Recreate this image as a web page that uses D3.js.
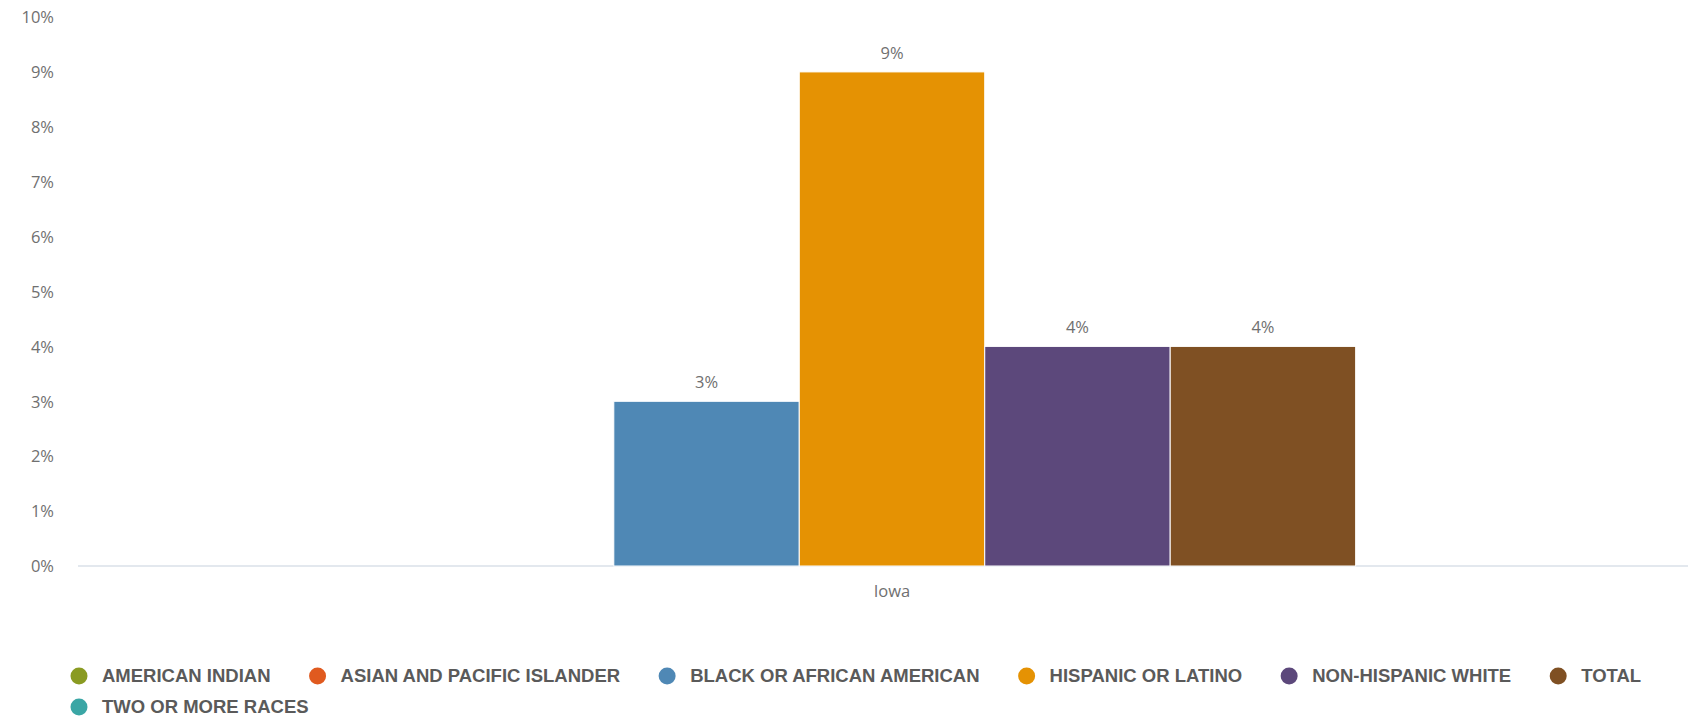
<!DOCTYPE html>
<html>
<head>
<meta charset="utf-8">
<script src="https://cdn.jsdelivr.net/npm/d3@7"></script>
<style>
  html, body { margin: 0; padding: 0; background: #fff; }
  svg { display: block; }
</style>
</head>
<body>
<svg id="chart" width="1688" height="718"></svg>
<script>
// ---- data ----
const categories = ["Iowa"];
const seriesNames = ["AMERICAN INDIAN", "ASIAN AND PACIFIC ISLANDER", "BLACK OR AFRICAN AMERICAN", "HISPANIC OR LATINO", "NON-HISPANIC WHITE", "TOTAL", "TWO OR MORE RACES"];
const seriesColors = ["#8A9B22", "#E05A1F", "#4F88B5", "#E59203", "#5C487B", "#7F5023", "#3AA6A5"];
// values per series for category "Iowa" (null = no data)
const iowaValues = [null, null, 3, 9, 4, 4, null];
const yTicks = [0, 1, 2, 3, 4, 5, 6, 7, 8, 9, 10];

// ---- layout ----
const W = 1688, H = 718;
const plot = { left: 78, right: 1706, top: 17, bottom: 566 };
const svg = d3.select("#chart");

const y = d3.scaleLinear().domain([0, 10]).range([plot.bottom, plot.top]);
const x0 = d3.scaleBand().domain(categories).range([plot.left, plot.right]).paddingInner(0).paddingOuter(0.127);
const x1 = d3.scaleBand().domain(seriesNames).range([0, x0.bandwidth()]);

// y axis labels
const yAxis = d3.axisLeft(y).tickValues(yTicks).tickFormat(d => d + "%").tickSize(0).tickPadding(0);
const yg = svg.append("g").attr("transform", `translate(${plot.left - 24},0)`).call(yAxis);
yg.select(".domain").remove();
yg.selectAll("text")
  .attr("font-family", "'Open Sans', sans-serif")
  .attr("font-size", 16.5)
  .attr("fill", "#707070")
  .attr("dy", "0.35em");

// x axis baseline
const xAxis = d3.axisBottom(x0).tickSize(0).tickPadding(0);
const xg = svg.append("g").attr("transform", `translate(0,${plot.bottom})`).call(xAxis);
xg.select(".domain").attr("stroke", "#e3e8ee").attr("stroke-width", 2).attr("d", `M${plot.left},0H${W}`);
xg.selectAll("text")
  .attr("font-family", "'Open Sans', sans-serif")
  .attr("font-size", 16.5)
  .attr("fill", "#707070")
  .attr("dy", "1.9em");

// bars
const rows = [];
categories.forEach(c => {
  seriesNames.forEach((s, i) => {
    const v = iowaValues[i];
    if (v !== null) rows.push({ cat: c, series: s, value: v, color: seriesColors[i] });
  });
});

const bars = svg.append("g");
bars.selectAll("rect").data(rows).join("rect")
  .attr("x", d => x0(d.cat) + x1(d.series))
  .attr("y", d => y(d.value))
  .attr("width", x1.bandwidth())
  .attr("height", d => y(0) - y(d.value))
  .attr("fill", d => d.color)
  .attr("stroke", "#ffffff")
  .attr("stroke-width", 1);

bars.selectAll("text").data(rows).join("text")
  .attr("x", d => x0(d.cat) + x1(d.series) + x1.bandwidth() / 2)
  .attr("y", d => y(d.value) - 13)
  .attr("text-anchor", "middle")
  .attr("font-family", "'Open Sans', sans-serif")
  .attr("font-size", 16.5)
  .attr("fill", "#707070")
  .text(d => d.value + "%");

// legend
const legend = svg.append("g");
let lx = 79, ly = 676;
const rowH = 31, maxX = 1672;
seriesNames.forEach((s, i) => {
  const g = legend.append("g");
  g.append("circle").attr("r", 8.5).attr("fill", seriesColors[i]);
  const t = g.append("text")
    .attr("x", 23)
    .attr("dy", "0.35em")
    .attr("font-family", "'Liberation Sans', Arial, sans-serif")
    .attr("font-weight", "bold")
    .attr("font-size", 18.5)
    .attr("fill", "#5a5a5a")
    .text(s);
  const w = t.node().getComputedTextLength();
  if (lx + 23 + w > maxX) { lx = 79; ly += rowH; }
  g.attr("transform", `translate(${lx},${ly})`);
  lx += 23 + w + 47;
});
</script>
</body>
</html>
